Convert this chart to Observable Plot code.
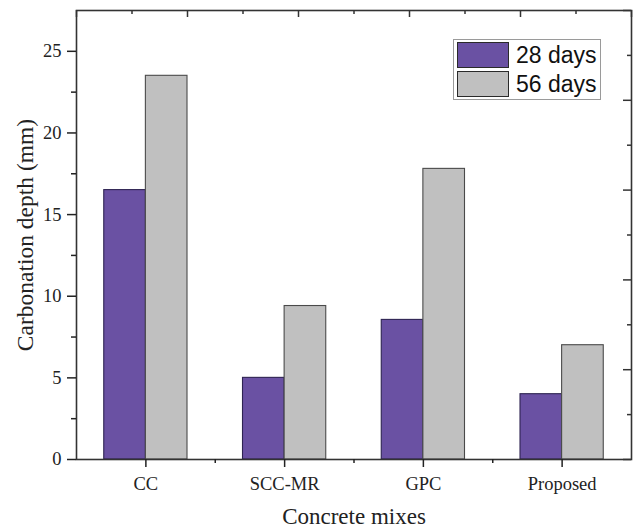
<!DOCTYPE html>
<html>
<head>
<meta charset="utf-8">
<script src="https://cdn.jsdelivr.net/npm/d3@7"></script>
<script src="https://cdn.jsdelivr.net/npm/@observablehq/plot@0.6"></script>
<style>
  html, body { margin: 0; padding: 0; background: #fff; }
  #wrap { position: relative; width: 633px; height: 529px; }
  #legend { position: absolute; left: 453px; top: 39px; width: 146px; height: 59px;
            border: 1px solid #9a9a9a; background: #fff; font-family: "Liberation Sans", Arial, sans-serif; }
  .row { position: absolute; left: 3px; height: 26px; display: flex; align-items: center; }
  .sw { width: 50px; height: 24px; border: 1px solid #2a2a2a; }
  .lbl { margin-left: 7px; font-size: 23px; line-height: 26px; color: #111; }
</style>
</head>
<body>
<div id="wrap"></div>
<script>
// ---- data ----
const categories = ["CC", "SCC-MR", "GPC", "Proposed"];
const series = ["28 days", "56 days"];
const days28 = [16.5, 5.0, 8.55, 4.0];
const days56 = [23.5, 9.4, 17.8, 7.0];
const colors = ["#6a51a3", "#c0c0c0"];
const strokes = ["#2e2452", "#4a4a4a"];
const yTicks = [0, 5, 10, 15, 20, 25];
const yMinor = [2.5, 7.5, 12.5, 17.5, 22.5];
const xMinor = [1.5, 2.5, 3.5];
const topMajor = [0.5, 1.3, 2.1, 2.9, 3.7, 4.5];
const topMinor = [0.9, 1.7, 2.5, 3.3, 4.1];
const rightMajor = [0, 5.5, 11, 16.5, 22, 27.5];
const rightMinor = [2.75, 8.25, 13.75, 19.25, 24.75];

const barW = 0.3;
const values = [days28, days56];
const rows = [];
series.forEach((s, si) => {
  categories.forEach((c, i) => {
    const x1 = i + 1 + (si - 1) * barW;
    rows.push({cat: c, series: s, si, value: values[si][i], x1, x2: x1 + barW});
  });
});

const W = 633, H = 529, mL = 76, mR = 2, mT = 10, mB = 70;
const fw = W - mL - mR, fh = H - mT - mB;

const chart = Plot.plot({
  width: W, height: H,
  marginLeft: mL, marginRight: mR, marginTop: mT, marginBottom: mB,
  x: {type: "linear", domain: [0.5, 4.5]},
  y: {domain: [0, 27.5]},
  color: {domain: series, range: colors},
  style: {fontFamily: "'Liberation Serif', 'Times New Roman', serif", fontSize: "18.5px", color: "#222", background: "#fff"},
  marks: [
    ...series.map((s, si) => Plot.rectY(rows.filter(d => d.si === si), {
      x1: "x1", x2: "x2", y1: 0, y2: "value", fill: "series",
      stroke: strokes[si], strokeWidth: 1.1
    })),
    Plot.frame({stroke: "#333", strokeWidth: 1.6}),
    // left axis
    Plot.axisY(yTicks, {tickSize: 9, tickPadding: 6, label: null, strokeWidth: 1.5, fontSize: 18.5}),
    Plot.axisY(yMinor, {tickSize: 5, tickFormat: () => "", label: null, strokeWidth: 1.5}),
    // bottom axis
    Plot.axisX([1, 2, 3, 4], {tickSize: 8, tickPadding: 9, tickFormat: d => categories[d - 1], label: null, strokeWidth: 1.5, fontSize: 18.5}),
    Plot.axisX(xMinor, {tickSize: 4, tickFormat: () => "", label: null, strokeWidth: 1.5}),
    // top mirror ticks (inward)
    Plot.ruleX(topMajor, {x: d => d, insetBottom: fh - 7, stroke: "#333", strokeWidth: 1.5}),
    Plot.ruleX(topMinor, {x: d => d, insetBottom: fh - 4, stroke: "#333", strokeWidth: 1.5}),
    // right mirror ticks (inward)
    Plot.ruleY(rightMajor, {y: d => d, insetLeft: fw - 8, stroke: "#333", strokeWidth: 1.5}),
    Plot.ruleY(rightMinor, {y: d => d, insetLeft: fw - 4, stroke: "#333", strokeWidth: 1.5}),
    // axis titles
    Plot.text(["Carbonation depth (mm)"], {frameAnchor: "left", dx: -51, rotate: -90, textAnchor: "middle", lineAnchor: "middle", fontSize: 23.5, fill: "#222"}),
    Plot.text(["Concrete mixes"], {frameAnchor: "bottom", dy: 57, textAnchor: "middle", lineAnchor: "middle", fontSize: 23, fill: "#222"})
  ]
});

const wrap = document.getElementById("wrap");
wrap.appendChild(chart);

// legend
const legend = document.createElement("div");
legend.id = "legend";
series.forEach((s, si) => {
  const row = document.createElement("div");
  row.className = "row";
  row.style.top = (2 + si * 29) + "px";
  const sw = document.createElement("div");
  sw.className = "sw";
  sw.style.background = colors[si];
  const lb = document.createElement("span");
  lb.className = "lbl";
  lb.textContent = s;
  row.appendChild(sw);
  row.appendChild(lb);
  legend.appendChild(row);
});
wrap.appendChild(legend);
</script>
</body>
</html>
